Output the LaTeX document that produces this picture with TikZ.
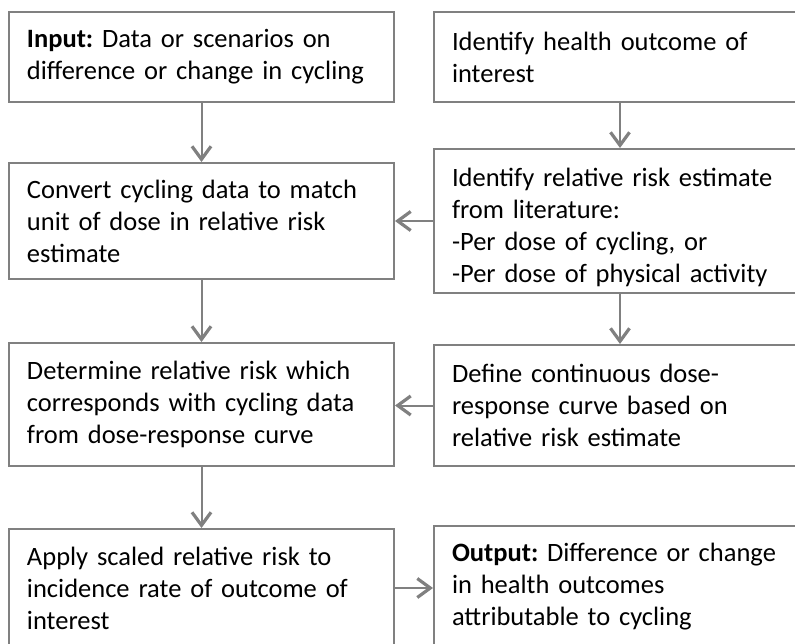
\documentclass[tikz,border=0pt]{standalone}
\usepackage{fontspec}
\setmainfont{Carlito}
\usetikzlibrary{arrows.meta}
\definecolor{edgegray}{RGB}{128,128,128}
\tikzset{
  stepbox/.style={draw=edgegray, line width=2pt, anchor=north west, align=left,
    inner xsep=18pt, inner ysep=0pt, font=\fontsize{26.5}{32}\selectfont\frenchspacing, text=black},
  lbox/.style={stepbox, text width=349pt},
  rbox/.style={stepbox, text width=336pt},
  conn/.style={draw=edgegray, line width=2pt,
    -{Straight Barb[length=13pt,width=19pt,line width=3.2pt]}}
}
\begin{document}
\begin{tikzpicture}[x=1pt,y=1pt]
\useasboundingbox (0,0) rectangle (795,-643);
\node[lbox, minimum height=90pt] (L1) at (8,-11) {\textbf{Input:} Data or scenarios on\\difference or change in cycling};
\node[rbox, minimum height=90pt] (R1) at (433,-11) {Identify health outcome of\\interest};
\node[lbox, minimum height=116pt] (L2) at (8,-162) {Convert cycling data to match\\unit of dose in relative risk\\estimate};
\node[rbox, minimum height=144pt] (R2) at (433,-148) {\rule{0pt}{31pt}Identify relative risk estimate\\from literature:\\-Per dose of cycling, or\\-Per dose of physical activity};
\node[lbox, minimum height=123pt] (L3) at (8,-342) {Determine relative risk which\\corresponds with cycling data\\from dose-response curve};
\node[rbox, minimum height=121pt] (R3) at (433,-344) {Define continuous dose-\\response curve based on\\relative risk estimate};
\node[lbox, minimum height=118pt] (L4) at (8,-528) {Apply scaled relative risk to\\incidence rate of outcome of\\interest};
\node[rbox, minimum height=121pt] (R4) at (433,-525) {\textbf{Output:} Difference or change\\in health outcomes\\attributable to cycling};
\draw[conn] (L1) -- (L2);
\draw[conn] (R1) -- (R2);
\draw[conn] (L2) -- (L3);
\draw[conn] (R2) -- (R3);
\draw[conn] (L3) -- (L4);
\draw[conn] (R2.west) -- (R2.west -| L2.east);
\draw[conn] (R3.west) -- (R3.west -| L3.east);
\draw[conn] (L4.east) -- (L4.east -| R4.west);
\end{tikzpicture}
\end{document}
